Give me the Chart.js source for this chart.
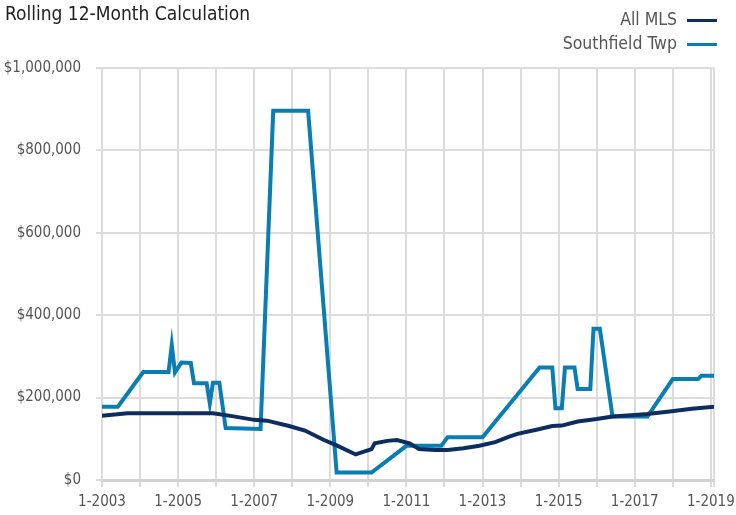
<!DOCTYPE html>
<html>
<head>
<meta charset="utf-8">
<script src="https://cdn.jsdelivr.net/npm/chart.js@4"></script>
<style>
  body { margin: 0; background: #fff; font-family: 'DejaVu Sans Condensed', 'Liberation Sans', sans-serif; }
  #wrap { position: relative; width: 736px; height: 515px; overflow: hidden; }
  #chart { position: absolute; left: 0; top: 0; }
  .title { position: absolute; left: 5px; top: 0px; font-size: 19px; color: #222; line-height: 26px; }
  .legend { position: absolute; right: 19px; font-size: 17.5px; color: #555; line-height: 22px; }
  .legend span.sw { display: inline-block; width: 30px; height: 3px; margin-left: 10px; vertical-align: middle; }
</style>
</head>
<body>
<div id="wrap">
  <canvas id="chart" width="736" height="515"></canvas>
  <div class="title">Rolling 12-Month Calculation</div>
  <div class="legend" style="top: 8px;">All MLS<span class="sw" style="background:#0c2d5e"></span></div>
  <div class="legend" style="top: 32px;">Southfield Twp<span class="sw" style="background:#0a7db3"></span></div>
</div>
<script>
// series names
const seriesNames = ['All MLS', 'Southfield Twp'];

// Southfield Twp breakpoints (month-year, rolling 12-month median price)
const southDates = ['1-2003', '6-2003', '2-2004', '10-2004', '11-2004', '12-2004', '2-2005', '5-2005',
  '6-2005', '10-2005', '11-2005', '12-2005', '2-2006', '4-2006', '3-2007', '7-2007', '6-2008',
  '3-2009', '2-2010', '1-2011', '12-2011', '2-2012', '1-2013', '7-2014', '11-2014', '12-2014',
  '2-2015', '3-2015', '6-2015', '7-2015', '11-2015', '12-2015', '2-2016', '6-2016', '5-2017',
  '1-2018', '9-2018', '10-2018', '2-2019'];
const southValues = [178000, 178000, 262000, 262000, 328000, 261000, 285000, 284000,
  235000, 235000, 186000, 236000, 236000, 126000, 124000, 896000, 896000,
  18000, 18000, 83000, 83000, 104000, 104000, 273000, 273000, 174000,
  174000, 273000, 273000, 221000, 221000, 367000, 367000, 154000, 154000,
  245000, 245000, 253000, 253000];

// All MLS
const mlsDates = ['1-2003', '9-2003', '12-2005', '6-2006', '1-2007', '5-2007', '12-2007', '5-2008',
  '11-2008', '3-2009', '9-2009', '2-2010', '3-2010', '7-2010', '10-2010', '2-2011', '5-2011',
  '10-2011', '2-2012', '7-2012', '12-2012', '5-2013', '9-2013', '12-2013', '6-2014', '11-2014',
  '2-2015', '7-2015', '1-2016', '6-2016', '1-2017', '5-2017', '12-2017', '7-2018', '2-2019'];
const mlsValues = [156000, 162000, 162000, 155000, 146000, 144000, 131000, 120000,
  97000, 84000, 62000, 75000, 89000, 95000, 97000, 89000, 75000,
  73000, 73000, 77000, 83000, 92000, 104000, 112000, 122000, 131000,
  132000, 142000, 148000, 154000, 158000, 160000, 166000, 173000, 178000];

// x axis: one grid line a year, label every other year
const yearTicks = ['1-2003', '1-2004', '1-2005', '1-2006', '1-2007', '1-2008', '1-2009', '1-2010',
  '1-2011', '1-2012', '1-2013', '1-2014', '1-2015', '1-2016', '1-2017', '1-2018', '1-2019', '2-2019'];
const yearLabels = ['1-2003', '1-2005', '1-2007', '1-2009', '1-2011', '1-2013', '1-2015', '1-2017', '1-2019'];

function monthIndex(s) {
  const [m, y] = s.split('-').map(Number);
  return (y - 2003) * 12 + (m - 1);
}
function monthLabel(v) {
  return ((v % 12) + 1) + '-' + (2003 + Math.floor(v / 12));
}
function toPoints(dates, values) {
  return dates.map((d, i) => ({ x: monthIndex(d), y: values[i] }));
}

const fontFamily = "'DejaVu Sans Condensed', 'Liberation Sans', sans-serif";
const gridColor = '#dcdcdc';

new Chart(document.getElementById('chart'), {
  type: 'line',
  data: {
    datasets: [{
      label: seriesNames[0],
      data: toPoints(mlsDates, mlsValues),
      borderColor: '#0c2d5e',
      borderWidth: 4,
      pointRadius: 0,
      tension: 0
    }, {
      label: seriesNames[1],
      data: toPoints(southDates, southValues),
      borderColor: '#0a7db3',
      borderWidth: 4,
      pointRadius: 0,
      tension: 0
    }]
  },
  options: {
    responsive: false,
    animation: false,
    layout: { padding: { top: 68, right: 22, left: 0, bottom: 0 } },
    plugins: {
      legend: { display: false },
      tooltip: { enabled: false }
    },
    scales: {
      x: {
        type: 'linear',
        min: 0,
        max: monthIndex('2-2019'),
        afterBuildTicks: axis => {
          axis.ticks = yearTicks.map(t => ({ value: monthIndex(t) }));
        },
        afterFit: axis => { axis.height = 35; },
        grid: { color: gridColor, lineWidth: 2, tickLength: 7 },
        border: { color: '#d2d2d2', width: 3 },
        ticks: {
          autoSkip: false,
          maxRotation: 0,
          padding: 6,
          color: '#555',
          font: { family: fontFamily, size: 15 },
          callback: value => {
            const lbl = monthLabel(value);
            return yearLabels.includes(lbl) ? lbl : '';
          }
        }
      },
      y: {
        min: 0,
        max: 1000000,
        afterFit: axis => { axis.width = 102; },
        grid: { color: gridColor, lineWidth: 2, tickLength: 6 },
        border: { color: gridColor, width: 2 },
        ticks: {
          stepSize: 200000,
          padding: 15,
          color: '#555',
          font: { family: fontFamily, size: 15 },
          callback: value => '$' + value.toLocaleString('en-US')
        }
      }
    }
  }
});
</script>
</body>
</html>
